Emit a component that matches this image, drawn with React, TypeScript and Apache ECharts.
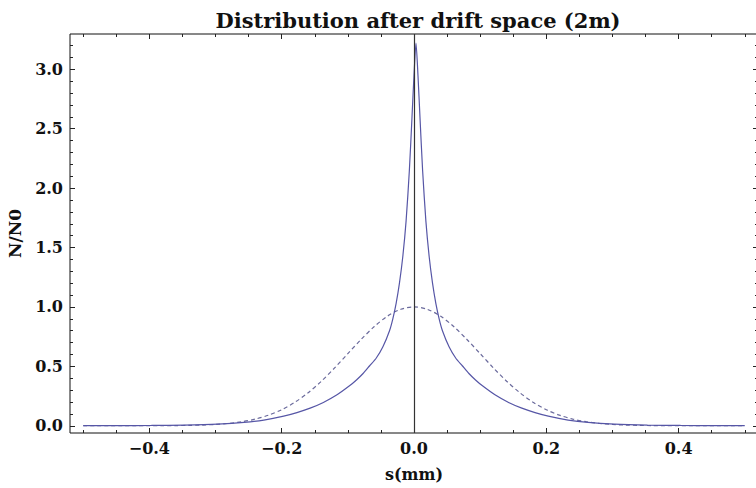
import React, { useEffect, useRef } from "react";
import * as echarts from "echarts";

const TITLE = "Distribution after drift space (2m)";
const X_NAME = "s(mm)";
const Y_NAME = "N/N0";

const xMajorTicks = [-0.4, -0.2, 0, 0.2, 0.4];
const xMinorTicks = [-0.5, -0.45, -0.35, -0.3, -0.25, -0.15, -0.1, -0.05, 0.05, 0.1, 0.15, 0.25, 0.3, 0.35, 0.45, 0.5];
const yMajorTicks = [0, 0.5, 1.0, 1.5, 2.0, 2.5, 3.0];
const yMinorTicks = [0.1, 0.2, 0.3, 0.4, 0.6, 0.7, 0.8, 0.9, 1.1, 1.2, 1.3, 1.4, 1.6, 1.7, 1.8, 1.9, 2.1, 2.2, 2.3, 2.4, 2.6, 2.7, 2.8, 2.9, 3.1, 3.2];

// solid curve (after drift)
const solidX = [
  -0.5, -0.447, -0.397, -0.347, -0.297, -0.257, -0.227, -0.197, -0.177, -0.157, -0.137, -0.117, -0.097, -0.087,
  -0.077, -0.067, -0.057, -0.047, -0.037, -0.032, -0.027, -0.022, -0.017, -0.012, -0.007, -0.003, 0.0,
  0.003,
  0.006, 0.009, 0.013, 0.018, 0.023, 0.028, 0.033, 0.038, 0.043, 0.053, 0.063, 0.073, 0.083, 0.093, 0.103,
  0.123, 0.143, 0.163, 0.183, 0.203, 0.233, 0.263, 0.303, 0.353, 0.403, 0.453, 0.5,
];
const solidY = [
  0.0005, 0.001, 0.0025, 0.006, 0.014, 0.028, 0.048, 0.081, 0.111, 0.148, 0.196, 0.258, 0.338, 0.385,
  0.44, 0.505, 0.57, 0.665, 0.8, 0.9, 1.03, 1.2, 1.42, 1.72, 2.15, 2.6, 2.95,
  3.22,
  2.95, 2.6, 2.15, 1.72, 1.42, 1.2, 1.03, 0.9, 0.8, 0.665, 0.57, 0.505, 0.44, 0.385, 0.338,
  0.258, 0.196, 0.148, 0.111, 0.081, 0.048, 0.028, 0.014, 0.006, 0.0025, 0.001, 0.0005,
];

// dashed curve (initial)
const dashedX = [
  -0.5, -0.48, -0.46, -0.44, -0.42, -0.4, -0.38, -0.36, -0.34, -0.32, -0.3, -0.28, -0.26, -0.24, -0.22, -0.2, -0.18,
  -0.16, -0.14, -0.12, -0.1, -0.08, -0.06, -0.04, -0.02, 0, 0.02, 0.04, 0.06, 0.08, 0.1, 0.12, 0.14, 0.16, 0.18, 0.2,
  0.22, 0.24, 0.26, 0.28, 0.3, 0.32, 0.34, 0.36, 0.38, 0.4, 0.42, 0.44, 0.46, 0.48, 0.5,
];
const dashedY = [
  0, 0, 0, 0, 0, 0.0003, 0.001, 0.0015, 0.003, 0.006, 0.011, 0.02, 0.034, 0.056, 0.089, 0.135, 0.198,
  0.278, 0.375, 0.487, 0.607, 0.726, 0.835, 0.923, 0.98, 1.0, 0.98, 0.923, 0.835, 0.726, 0.607, 0.487, 0.375, 0.278, 0.198, 0.135,
  0.089, 0.056, 0.034, 0.02, 0.011, 0.006, 0.003, 0.0015, 0.001, 0.0003, 0, 0, 0, 0, 0,
];

const X_MIN = -0.52;
const X_MAX = 0.52;
const Y_MIN = -0.061;
const Y_MAX = 3.297;

const FONT = "DejaVu Serif";

function fmt(v: number): string {
  const s = Math.abs(v).toFixed(1);
  return v < -1e-9 ? "\u2212" + s : s;
}

export default function App() {
  const ref = useRef<HTMLDivElement>(null);
  useEffect(() => {
    if (!ref.current) return;
    const chart = echarts.init(ref.current, undefined, { renderer: "svg" });

    const baseX = (position: "bottom" | "top", ticks: number[], len: number, labels: boolean, name?: string) => ({
      type: "value",
      min: X_MIN,
      max: X_MAX,
      position,
      name,
      nameLocation: "middle",
      nameGap: 33,
      nameTextStyle: { fontFamily: FONT, fontWeight: "bold", fontSize: 16, color: "#111" },
      axisLine: { show: false, onZero: false },
      axisTick: { show: true, inside: true, length: len, customValues: ticks, lineStyle: { color: "#222", width: 1 } },
      axisLabel: labels
        ? { show: true, customValues: ticks, formatter: fmt, margin: 7, fontFamily: FONT, fontWeight: "bold", fontSize: 16, color: "#111" }
        : { show: false },
      splitLine: { show: false },
    });
    const baseY = (position: "left" | "right", ticks: number[], len: number, labels: boolean, name?: string) => ({
      type: "value",
      min: Y_MIN,
      max: Y_MAX,
      position,
      name,
      nameLocation: "middle",
      nameGap: 47,
      nameTextStyle: { fontFamily: FONT, fontWeight: "bold", fontSize: 17, color: "#111" },
      axisLine: { show: false, onZero: false },
      axisTick: { show: true, inside: true, length: len, customValues: ticks, lineStyle: { color: "#222", width: 1 } },
      axisLabel: labels
        ? { show: true, customValues: ticks, formatter: fmt, margin: 7, fontFamily: FONT, fontWeight: "bold", fontSize: 16, color: "#111" }
        : { show: false },
      splitLine: { show: false },
    });

    const solidData = solidX.map((x, i) => [x, solidY[i]]);
    const dashedData = dashedX.map((x, i) => [x, dashedY[i]]);

    chart.setOption({
      animation: false,
      backgroundColor: "#ffffff",
      title: {
        text: TITLE,
        left: 413,
        textAlign: "center",
        top: 5,
        textStyle: { fontFamily: FONT, fontWeight: "bold", fontSize: 21, color: "#111" },
      },
      grid: {
        left: 70,
        top: 34,
        right: -2,
        bottom: 55,
        containLabel: false,
        outerBoundsMode: "none",
        show: true,
        borderColor: "#111",
        borderWidth: 1,
        backgroundColor: "transparent",
      },
      xAxis: [
        baseX("bottom", xMajorTicks, 5, true, X_NAME),
        baseX("bottom", xMinorTicks, 3, false),
        baseX("top", xMajorTicks, 5, false),
        baseX("top", xMinorTicks, 3, false),
      ],
      yAxis: [
        baseY("left", yMajorTicks, 5, true, Y_NAME),
        baseY("left", yMinorTicks, 3, false),
        baseY("right", yMajorTicks, 5, false),
        baseY("right", yMinorTicks, 3, false),
      ],
      series: [
        {
          type: "line",
          name: "initial",
          xAxisIndex: 0,
          yAxisIndex: 0,
          data: dashedData,
          showSymbol: false,
          smooth: 0.3,
          lineStyle: { color: "#6a6a9c", width: 1.2, type: [4, 3] },
          z: 2,
        },
        {
          type: "line",
          name: "after drift",
          xAxisIndex: 0,
          yAxisIndex: 0,
          data: solidData,
          showSymbol: false,
          smooth: 0.25,
          lineStyle: { color: "#5656a6", width: 1.2 },
          z: 3,
          markLine: {
            silent: true,
            symbol: "none",
            label: { show: false },
            lineStyle: { color: "#333", width: 1.2, type: "solid" },
            data: [{ xAxis: 0 }],
          },
        },
      ],
    });
    return () => chart.dispose();
  }, []);

  return (
    <div
      ref={ref}
      style={{ position: "absolute", left: 0, top: 0, width: 756, height: 488, background: "#fff" }}
    />
  );
}
